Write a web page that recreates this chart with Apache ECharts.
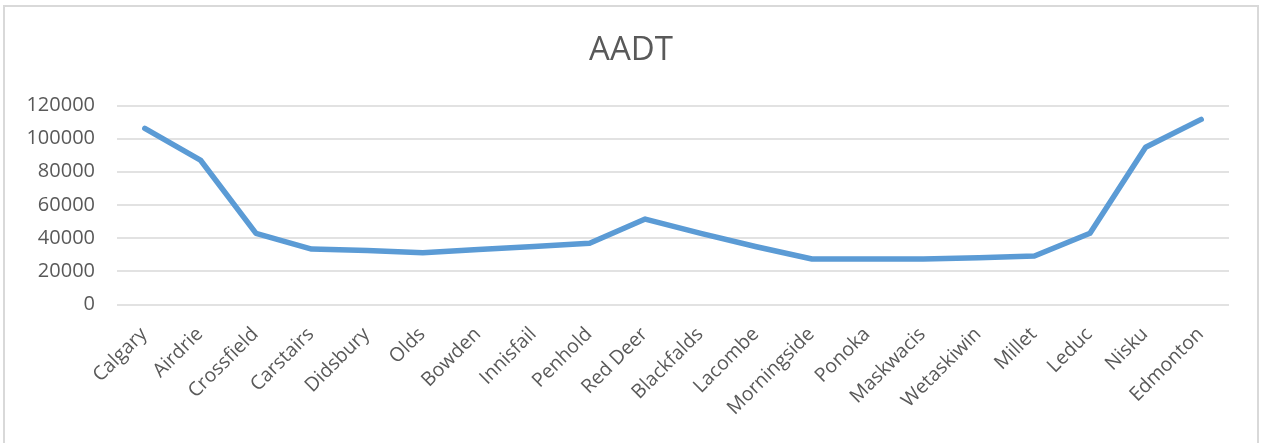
<!DOCTYPE html>
<html>
<head>
<meta charset="utf-8">
<script src="https://cdn.jsdelivr.net/npm/echarts@6/dist/echarts.min.js"></script>
<style>
  html, body { margin: 0; padding: 0; background: #fff; }
  #chart { width: 1262px; height: 443px; }
</style>
</head>
<body>
<div id="chart"></div>
<script>
// Annual average daily traffic along the Calgary–Edmonton corridor
const titleText = 'AADT';
const towns = ['Calgary', 'Airdrie', 'Crossfield', 'Carstairs', 'Didsbury', 'Olds', 'Bowden',
  'Innisfail', 'Penhold', 'Red Deer', 'Blackfalds', 'Lacombe', 'Morningside', 'Ponoka',
  'Maskwacis', 'Wetaskiwin', 'Millet', 'Leduc', 'Nisku', 'Edmonton'];
const aadt = [106100, 87000, 42800, 33300, 32400, 31100, 33000, 34900, 36800, 51400,
  42800, 34700, 27300, 27300, 27300, 28100, 29100, 42800, 94700, 111500];
const yMin = 0;
const yMax = 120000;
const yStep = 20000;

const chart = echarts.init(document.getElementById('chart'), null, { renderer: 'canvas' });
const textColor = '#595959';
const fontFamily = '"Open Sans", "Noto Sans", sans-serif';

chart.setOption({
  animation: false,
  backgroundColor: '#ffffff',
  title: {
    text: titleText,
    left: 'center',
    top: 29,
    textStyle: { color: textColor, fontFamily: fontFamily, fontSize: 33, fontWeight: 'normal' }
  },
  graphic: [{
    type: 'rect',
    shape: { x: 4, y: 6, width: 1254, height: 460 },
    style: { fill: 'none', stroke: '#d9d9d9', lineWidth: 2 },
    silent: true
  }],
  grid: { left: 117, right: 33, top: 105.3, bottom: 443 - 304.3, containLabel: false },
  xAxis: {
    type: 'category',
    data: towns,
    boundaryGap: true,
    axisLine: { show: false },
    axisTick: { show: false },
    axisLabel: {
      interval: 0,
      rotate: 45,
      align: 'right',
      verticalAlign: 'top',
      margin: 12,
      padding: [0, 11, 0, 0],
      color: textColor,
      fontFamily: fontFamily,
      fontSize: 19.5
    }
  },
  yAxis: {
    type: 'value',
    min: yMin,
    max: yMax,
    interval: yStep,
    axisLine: { show: false },
    axisTick: { show: false },
    axisLabel: {
      color: textColor,
      fontFamily: fontFamily,
      fontSize: 20,
      margin: 22,
      formatter: (v) => String(v)
    },
    splitLine: { lineStyle: { color: '#d9d9d9', width: 1.5 } }
  },
  series: [{
    type: 'line',
    data: aadt,
    symbol: 'none',
    smooth: false,
    lineStyle: { color: '#5b9bd5', width: 5.5, cap: 'round', join: 'round' }
  }]
});
</script>
</body>
</html>
